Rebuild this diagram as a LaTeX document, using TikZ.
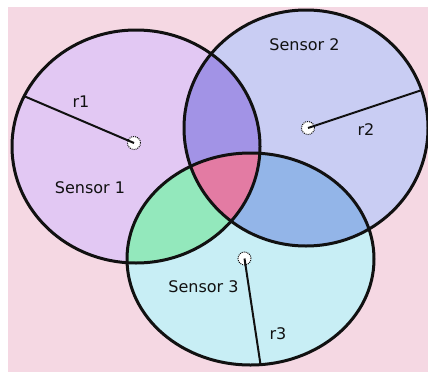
\documentclass[tikz,border=0pt]{standalone}
\usepackage{fontspec}
\setmainfont{DejaVu Sans}
\definecolor{bgpink}{HTML}{F5D8E3}
\definecolor{cA}{HTML}{E2C8F3}
\definecolor{cB}{HTML}{C9CDF3}
\definecolor{cC}{HTML}{C8EEF5}
\definecolor{cAB}{HTML}{A293E6}
\definecolor{cAC}{HTML}{93E8BC}
\definecolor{cBC}{HTML}{93B5E8}
\definecolor{cABC}{HTML}{E37BA3}
\definecolor{ink}{HTML}{111111}
\begin{document}
\begin{tikzpicture}[x=1pt,y=-1pt,
  rim/.style={draw=ink,line width=3pt},
  radius line/.style={draw=ink,line width=2pt},
  dot/.style={circle,fill=white,draw=ink,densely dotted,line width=1pt,minimum size=13pt,inner sep=0pt},
  lbl/.style={font=\fontsize{16}{18}\selectfont,text=ink,inner sep=0pt}]
\useasboundingbox (0,0) rectangle (428,372);
\fill[white] (0,0) rectangle (428,372);
\fill[bgpink] (8,7) rectangle (428,372);
\def\eA{(136,146.5) ellipse [x radius=124pt, y radius=116.5pt]}
\def\eB{(306,128) ellipse [x radius=122pt, y radius=118pt]}
\def\eC{(250.5,259) ellipse [x radius=123.5pt, y radius=106pt]}
% base fills
\fill[cA] \eA;
\fill[cB] \eB;
\fill[cC] \eC;
% pairwise overlaps
\begin{scope}\clip \eA; \fill[cAB] \eB; \end{scope}
\begin{scope}\clip \eA; \fill[cAC] \eC; \end{scope}
\begin{scope}\clip \eB; \fill[cBC] \eC; \end{scope}
\begin{scope}\clip \eA; \clip \eB; \fill[cABC] \eC; \end{scope}
% outlines
\draw[rim] \eA;
\draw[rim] \eB;
\draw[rim] \eC;
% centres and radii
\node[dot] (d1) at (134,143) {};
\node[dot] (d2) at (308,128) {};
\node[dot] (d3) at (244.5,258.5) {};
\coordinate (e1) at (25,96.5);
\coordinate (e2) at (422,90);
\coordinate (e3) at (260.5,364.5);
\draw[radius line] (e1) -- (d1.center);
\draw[radius line] (e2) -- (d2.center);
\draw[radius line] (e3) -- (d3.center);
% labels
\node[lbl] (r1) at (81,102) {r1};
\node[lbl] (r2) at (366,130) {r2};
\node[lbl] (r3) at (278,334) {r3};
\node[lbl] (s1) at (90,187.5) {Sensor 1};
\node[lbl] (s2) at (304.5,44.5) {Sensor 2};
\node[lbl] (s3) at (203.5,286.5) {Sensor 3};
\end{tikzpicture}
\end{document}
